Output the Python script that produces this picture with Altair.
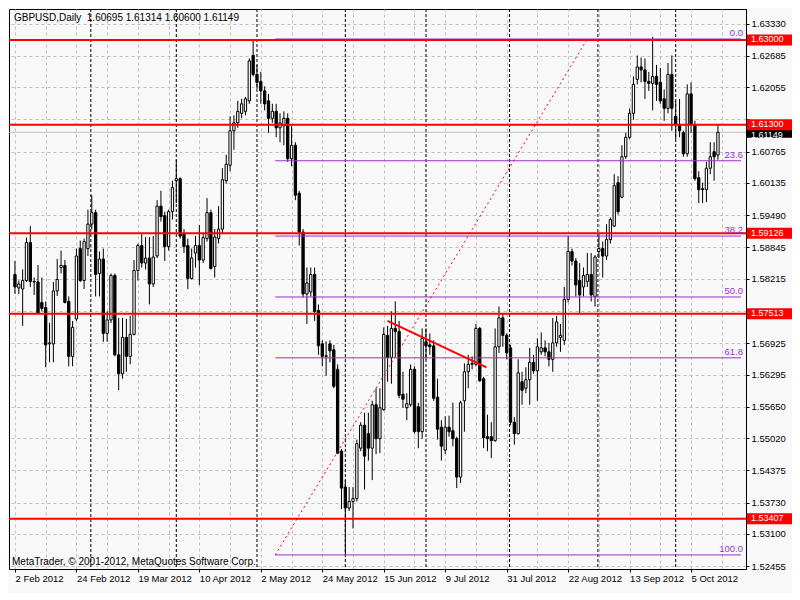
import altair as alt
import pandas as pd

FONT = "Liberation Sans"
FS = 9.5
PURPLE = "#9932CC"
RED = "#FF0000"
BG = "#F8F8F8"

title_text = "GBPUSD,Daily\u00a0\u00a01.60695 1.61314 1.60600 1.61149"
copyright_text = "MetaTrader, \u00a9 2001-2012, MetaQuotes Software Corp."

open_ = [1.5830, 1.5803, 1.5801, 1.5818, 1.5894, 1.5816, 1.5815, 1.5774, 1.5764, 1.5691,
         1.5691, 1.5797, 1.5844, 1.5848, 1.5776, 1.5666, 1.5741, 1.5882, 1.5818, 1.5882,
         1.5931, 1.5954, 1.5832, 1.5861, 1.5712, 1.5739, 1.5828, 1.5669, 1.5631, 1.5704,
         1.5666, 1.5710, 1.5838, 1.5888, 1.5853, 1.5863, 1.5811, 1.5867, 1.5967, 1.5948,
         1.5886, 1.5956, 1.6018, 1.6022, 1.5911, 1.5888, 1.5822, 1.5873, 1.5888, 1.5859,
         1.5902, 1.5954, 1.5846, 1.5902, 1.5921, 1.6018, 1.6049, 1.6118, 1.6134, 1.6153,
         1.6157, 1.6178, 1.6269, 1.6231, 1.6217, 1.6198, 1.6178, 1.6143, 1.6157, 1.6124,
         1.6128, 1.6143, 1.6062, 1.6089, 1.5993, 1.5915, 1.5791, 1.5795, 1.5830, 1.5758,
         1.5691, 1.5667, 1.5691, 1.5679, 1.5640, 1.5476, 1.5404, 1.5362, 1.5375, 1.5381,
         1.5482, 1.5528, 1.5511, 1.5482, 1.5569, 1.5501, 1.5559, 1.5708, 1.5664, 1.5722,
         1.5716, 1.5590, 1.5563, 1.5569, 1.5640, 1.5565, 1.5515, 1.5695, 1.5689, 1.5687,
         1.5584, 1.5524, 1.5478, 1.5524, 1.5517, 1.5501, 1.5424, 1.5577, 1.5635, 1.5650,
         1.5650, 1.5722, 1.5621, 1.5505, 1.5505, 1.5497, 1.5685, 1.5743, 1.5708, 1.5683,
         1.5534, 1.5511, 1.5615, 1.5602, 1.5619, 1.5654, 1.5637, 1.5675, 1.5683, 1.5675,
         1.5660, 1.5693, 1.5704, 1.5698, 1.5780, 1.5876, 1.5857, 1.5818, 1.5805, 1.5816,
         1.5830, 1.5786, 1.5876, 1.5882, 1.5867, 1.5900, 1.5927, 1.6014, 1.5985, 1.6066,
         1.6105, 1.6153, 1.6221, 1.6246, 1.6240, 1.6217, 1.6213, 1.6227, 1.6215, 1.6182,
         1.6163, 1.6231, 1.6147, 1.6130, 1.6114, 1.6072, 1.6192, 1.6130, 1.6024, 1.6002,
         1.6000, 1.6043, 1.6076, 1.60695]
high = [1.5857, 1.5818, 1.5840, 1.5904, 1.5927, 1.5824, 1.5849, 1.5824, 1.5776, 1.5733,
        1.5815, 1.5861, 1.5878, 1.5859, 1.5786, 1.5737, 1.5882, 1.5898, 1.5902, 1.5960,
        1.5989, 1.5960, 1.5876, 1.5882, 1.5756, 1.5832, 1.5832, 1.5743, 1.5743, 1.5741,
        1.5747, 1.5859, 1.5892, 1.5911, 1.5905, 1.5905, 1.5907, 1.5979, 1.5998, 1.5956,
        1.5960, 1.6018, 1.6060, 1.6025, 1.5921, 1.5902, 1.5882, 1.5907, 1.5929, 1.5911,
        1.5983, 1.5960, 1.5921, 1.5967, 1.6043, 1.6070, 1.6147, 1.6149, 1.6178, 1.6182,
        1.6186, 1.6263, 1.6302, 1.6250, 1.6236, 1.6207, 1.6192, 1.6172, 1.6172, 1.6153,
        1.6157, 1.6153, 1.6128, 1.6095, 1.5998, 1.5921, 1.5844, 1.5844, 1.5844, 1.5770,
        1.5698, 1.5696, 1.5698, 1.5689, 1.5650, 1.5480, 1.5418, 1.5404, 1.5404, 1.5499,
        1.5534, 1.5553, 1.5553, 1.5577, 1.5602, 1.5602, 1.5724, 1.5727, 1.5756, 1.5776,
        1.5737, 1.5635, 1.5592, 1.5650, 1.5646, 1.5573, 1.5722, 1.5722, 1.5712, 1.5698,
        1.5621, 1.5538, 1.5546, 1.5547, 1.5573, 1.5505, 1.5577, 1.5652, 1.5669, 1.5666,
        1.5731, 1.5725, 1.5625, 1.5549, 1.5534, 1.5722, 1.5766, 1.5751, 1.5712, 1.5689,
        1.5544, 1.5660, 1.5635, 1.5644, 1.5683, 1.5669, 1.5702, 1.5714, 1.5698, 1.5693,
        1.5743, 1.5747, 1.5731, 1.5805, 1.5907, 1.5882, 1.5863, 1.5853, 1.5844, 1.5873,
        1.5873, 1.5869, 1.5911, 1.5896, 1.5931, 1.5944, 1.6031, 1.6027, 1.6089, 1.6114,
        1.6163, 1.6227, 1.6269, 1.6265, 1.6263, 1.6236, 1.6306, 1.6250, 1.6244, 1.6201,
        1.6254, 1.6269, 1.6178, 1.6182, 1.6118, 1.6211, 1.6215, 1.6138, 1.6037, 1.6014,
        1.6056, 1.6095, 1.6095, 1.61314]
low = [1.5791, 1.5791, 1.5727, 1.5815, 1.5805, 1.5789, 1.5751, 1.5756, 1.5644, 1.5654,
       1.5654, 1.5787, 1.5832, 1.5772, 1.5646, 1.5646, 1.5737, 1.5815, 1.5801, 1.5867,
       1.5921, 1.5786, 1.5786, 1.5695, 1.5695, 1.5733, 1.5666, 1.5598, 1.5621, 1.5635,
       1.5650, 1.5708, 1.5818, 1.5844, 1.5840, 1.5770, 1.5805, 1.5863, 1.5936, 1.5857,
       1.5878, 1.5940, 1.5973, 1.5902, 1.5873, 1.5801, 1.5820, 1.5844, 1.5809, 1.5853,
       1.5896, 1.5840, 1.5824, 1.5892, 1.5911, 1.6012, 1.6037, 1.6080, 1.6124, 1.6143,
       1.6149, 1.6172, 1.6227, 1.6202, 1.6172, 1.6159, 1.6114, 1.6134, 1.6105, 1.6095,
       1.6089, 1.6056, 1.6047, 1.5979, 1.5888, 1.5784, 1.5731, 1.5786, 1.5737, 1.5669,
       1.5646, 1.5627, 1.5654, 1.5602, 1.5470, 1.5360, 1.5268, 1.5356, 1.5321, 1.5375,
       1.5476, 1.5399, 1.5457, 1.5418, 1.5470, 1.5472, 1.5557, 1.5615, 1.5611, 1.5664,
       1.5582, 1.5563, 1.5538, 1.5565, 1.5511, 1.5482, 1.5501, 1.5660, 1.5669, 1.5577,
       1.5499, 1.5457, 1.5470, 1.5505, 1.5486, 1.5402, 1.5412, 1.5515, 1.5602, 1.5640,
       1.5646, 1.5615, 1.5482, 1.5476, 1.5462, 1.5495, 1.5673, 1.5685, 1.5660, 1.5528,
       1.5489, 1.5509, 1.5569, 1.5592, 1.5569, 1.5631, 1.5577, 1.5669, 1.5666, 1.5646,
       1.5635, 1.5685, 1.5675, 1.5689, 1.5774, 1.5848, 1.5786, 1.5753, 1.5786, 1.5805,
       1.5776, 1.5766, 1.5863, 1.5824, 1.5859, 1.5892, 1.5925, 1.5950, 1.5983, 1.6062,
       1.6101, 1.6140, 1.6211, 1.6215, 1.6182, 1.6198, 1.6159, 1.6178, 1.6172, 1.6138,
       1.6153, 1.6118, 1.6101, 1.6105, 1.6066, 1.6066, 1.6114, 1.6018, 1.5973, 1.5973,
       1.5975, 1.6031, 1.6018, 1.60600]
close = [1.5805, 1.5811, 1.5818, 1.5894, 1.5816, 1.5815, 1.5753, 1.5762, 1.5689, 1.5693,
         1.5797, 1.5820, 1.5848, 1.5774, 1.5666, 1.5724, 1.5867, 1.5818, 1.5896, 1.5931,
         1.5954, 1.5830, 1.5861, 1.5712, 1.5739, 1.5828, 1.5669, 1.5631, 1.5704, 1.5666,
         1.5710, 1.5838, 1.5888, 1.5853, 1.5863, 1.5811, 1.5865, 1.5967, 1.5946, 1.5886,
         1.5956, 1.6004, 1.6022, 1.5907, 1.5886, 1.5822, 1.5863, 1.5888, 1.5859, 1.5904,
         1.5954, 1.5842, 1.5905, 1.5921, 1.6020, 1.6051, 1.6118, 1.6134, 1.6157, 1.6172,
         1.6182, 1.6258, 1.6231, 1.6215, 1.6198, 1.6172, 1.6143, 1.6157, 1.6124, 1.6134,
         1.6143, 1.6062, 1.6089, 1.5989, 1.5915, 1.5791, 1.5813, 1.5830, 1.5756, 1.5687,
         1.5666, 1.5666, 1.5677, 1.5606, 1.5472, 1.5402, 1.5362, 1.5375, 1.5381, 1.5491,
         1.5528, 1.5466, 1.5482, 1.5569, 1.5501, 1.5563, 1.5710, 1.5664, 1.5722, 1.5716,
         1.5588, 1.5580, 1.5571, 1.5640, 1.5515, 1.5515, 1.5702, 1.5687, 1.5685, 1.5582,
         1.5520, 1.5486, 1.5524, 1.5515, 1.5501, 1.5424, 1.5573, 1.5635, 1.5650, 1.5652,
         1.5722, 1.5617, 1.5503, 1.5501, 1.5497, 1.5685, 1.5743, 1.5708, 1.5673, 1.5534,
         1.5511, 1.5633, 1.5598, 1.5619, 1.5654, 1.5637, 1.5685, 1.5683, 1.5675, 1.5660,
         1.5693, 1.5735, 1.5708, 1.5780, 1.5876, 1.5857, 1.5809, 1.5789, 1.5828, 1.5830,
         1.5789, 1.5865, 1.5882, 1.5867, 1.5900, 1.5940, 1.6008, 1.5956, 1.6066, 1.6105,
         1.6153, 1.6211, 1.6246, 1.6240, 1.6217, 1.6213, 1.6227, 1.6211, 1.6178, 1.6163,
         1.6231, 1.6163, 1.6130, 1.6118, 1.6072, 1.6192, 1.6130, 1.6022, 1.6000, 1.6000,
         1.6043, 1.6066, 1.6066, 1.61149]

date_labels = ["2 Feb 2012", "24 Feb 2012", "19 Mar 2012", "10 Apr 2012", "2 May 2012",
               "24 May 2012", "15 Jun 2012", "9 Jul 2012", "31 Jul 2012", "22 Aug 2012",
               "13 Sep 2012", "5 Oct 2012"]
date_label_bars = [0, 16, 32, 48, 64, 80, 96, 112, 128, 144, 160, 176]
grid_bars = [0, 8, 16, 24, 32, 40, 48, 56, 64, 72, 80, 88, 96, 104, 112, 120, 128, 136,
             144, 152, 160, 168, 176, 184]
y_ticks = [1.63330, 1.62685, 1.62055, 1.61410, 1.60765, 1.60135, 1.59490, 1.58845,
           1.58215, 1.57570, 1.56925, 1.56295, 1.55650, 1.55020, 1.54375, 1.53730,
           1.53100, 1.52455]
hidden_tick_labels = ["1.61410", "1.57570"]   # covered by the price tags
red_levels = [1.63000, 1.61300, 1.59126, 1.57513, 1.53407]
bid_price = [1.61149]
separator_bars = [19.75, 42, 63, 86, 107, 128.75, 151.75, 172]

fib_low, fib_high = 1.5268, 1.6302
fib_ratios = [0.0, 23.6, 38.2, 50.0, 61.8, 100.0]
fib_bars = [67.75, 149.0]
fib_end_bar = 189.0
trend_bars = [97.0, 122.75]
trend_prices = [1.5737, 1.5644]

W, H = 737, 560
x_domain = [-0.25, 189.0]
y_domain = [1.52398, 1.63621]

df = pd.DataFrame({"bar": list(range(len(close))), "open": open_, "high": high,
                   "low": low, "close": close})
xs = alt.Scale(domain=x_domain, nice=False, zero=False)
ys = alt.Scale(domain=y_domain, nice=False, zero=False)

lab_arr = "[" + ",".join("'%s'" % d for d in date_labels) + "]"
bar_arr = "[" + ",".join(str(b) for b in date_label_bars) + "]"
x_axis = alt.Axis(orient="bottom", values=date_label_bars,
                  labelExpr=f"{lab_arr}[indexof({bar_arr}, datum.value)]",
                  labelAlign="left", labelFlush=False, labelPadding=1, tickSize=3,
                  tickColor="black", domainColor="black", grid=False, title=None,
                  labelFont=FONT, labelFontSize=FS, labelColor="black", labelOverlap=False)
grid_axis = alt.Axis(orient="top", values=grid_bars, grid=True, labels=False, ticks=False,
                     domain=False, gridColor="#C0C0C0", gridDash=[3, 3], title=None)
hid_arr = "[" + ",".join("'%s'" % s for s in hidden_tick_labels) + "]"
y_axis = alt.Axis(orient="right", values=y_ticks, grid=True,
                  labelExpr=f"indexof({hid_arr}, format(datum.value, '.5f')) >= 0 ? '' : format(datum.value, '.5f')",
                  gridColor="#C0C0C0", gridDash=[3, 3], tickSize=3, tickColor="black",
                  domainColor="black", labelFont=FONT, labelFontSize=FS,
                  labelColor="black", labelPadding=2, title=None, labelOverlap=False)

separators = alt.Chart(pd.DataFrame({"bar": separator_bars})).mark_rule(
    color="black", strokeWidth=1, strokeDash=[3, 2]).encode(
    x=alt.X("bar:Q", scale=xs, axis=None))

bid_df = pd.DataFrame({"price": bid_price, "label": ["%.5f" % p for p in bid_price]})
bid_line = alt.Chart(bid_df).mark_rule(color="#C0C0C0", strokeWidth=1).encode(
    y=alt.Y("price:Q", scale=ys, axis=None))

wicks = alt.Chart(df).mark_rule(color="black", strokeWidth=1).encode(
    x=alt.X("bar:Q", scale=xs, axis=grid_axis),
    y=alt.Y("low:Q", scale=ys, axis=y_axis), y2="high:Q")

bodies = alt.Chart(df).mark_bar(size=2.3, stroke="black", strokeWidth=1).encode(
    x=alt.X("bar:Q", scale=xs, axis=x_axis),
    y=alt.Y("open:Q", scale=ys, axis=None), y2="close:Q",
    fill=alt.condition("datum.close >= datum.open", alt.value("white"), alt.value("black")))

fib = pd.DataFrame({"ratio": fib_ratios})
fib["price"] = fib_high - fib["ratio"] / 100.0 * (fib_high - fib_low)
fib["label"] = ["%.1f" % r for r in fib_ratios]
fib["x0"] = fib_bars[0]
fib["x1"] = fib_end_bar

fib_lines = alt.Chart(fib).mark_rule(color=PURPLE, strokeWidth=1).encode(
    x=alt.X("x0:Q", scale=xs, axis=None), x2="x1:Q",
    y=alt.Y("price:Q", scale=ys, axis=None))
fib_text = alt.Chart(fib).mark_text(align="right", baseline="bottom", dy=-1, color=PURPLE,
                                    font=FONT, fontSize=FS).encode(
    x=alt.value(W - 3), y=alt.Y("price:Q", scale=ys, axis=None), text="label:N")

diag_df = pd.DataFrame({"x0": [fib_bars[0]], "x1": [fib_bars[1]],
                        "y0": [fib_low], "y1": [fib_high]})
diag = alt.Chart(diag_df).mark_rule(color=RED, strokeWidth=1, strokeDash=[2, 3]).encode(
    x=alt.X("x0:Q", scale=xs, axis=None), x2="x1:Q",
    y=alt.Y("y0:Q", scale=ys, axis=None), y2="y1:Q")

red_df = pd.DataFrame({"price": red_levels, "label": ["%.5f" % p for p in red_levels]})
red_lines = alt.Chart(red_df).mark_rule(color=RED, strokeWidth=2).encode(
    y=alt.Y("price:Q", scale=ys, axis=None))

trend_df = pd.DataFrame({"x0": [trend_bars[0]], "x1": [trend_bars[1]],
                         "y0": [trend_prices[0]], "y1": [trend_prices[1]]})
trend = alt.Chart(trend_df).mark_rule(color=RED, strokeWidth=2).encode(
    x=alt.X("x0:Q", scale=xs, axis=None), x2="x1:Q",
    y=alt.Y("y0:Q", scale=ys, axis=None), y2="y1:Q")

bid_box = alt.Chart(bid_df).mark_tick(orient="horizontal", thickness=11, size=46,
                                      color="black", opacity=1).encode(
    x=alt.value(W + 24), y=alt.Y("price:Q", scale=ys, axis=None))
red_box = alt.Chart(red_df).mark_tick(orient="horizontal", thickness=11, size=46,
                                      color=RED, opacity=1).encode(
    x=alt.value(W + 24), y=alt.Y("price:Q", scale=ys, axis=None))
bid_txt = alt.Chart(bid_df).mark_text(align="left", baseline="middle", dy=3, color="white",
                                      font=FONT, fontSize=9).encode(
    x=alt.value(W + 5), y=alt.Y("price:Q", scale=ys, axis=None), text="label:N")
red_txt = alt.Chart(red_df).mark_text(align="left", baseline="middle", dy=-0.5,
                                      color="white", font=FONT, fontSize=9).encode(
    x=alt.value(W + 5), y=alt.Y("price:Q", scale=ys, axis=None), text="label:N")

title = alt.Chart(pd.DataFrame({"t": [title_text]})).mark_text(
    align="left", baseline="middle", font=FONT, fontSize=10, color="black").encode(
    x=alt.value(5), y=alt.value(9), text="t:N")
copyright = alt.Chart(pd.DataFrame({"t": [copyright_text]})).mark_text(
    align="left", baseline="middle", font=FONT, fontSize=10, color="black").encode(
    x=alt.value(3), y=alt.value(H - 7), text="t:N")

chart = alt.layer(
    separators, bid_line, wicks, bodies, fib_lines, diag, red_lines, trend, fib_text,
    bid_box, red_box, red_txt, bid_txt, title, copyright
).resolve_axis(x="independent", y="independent").properties(
    width=W, height=H, autosize=alt.AutoSizeParams(type="none"),
    padding={"left": 1, "top": 1, "right": 46, "bottom": 24}, background=BG
).configure_view(stroke="black", strokeWidth=1)

chart.save("out.html", embed_options={"renderer": "svg", "actions": False})
